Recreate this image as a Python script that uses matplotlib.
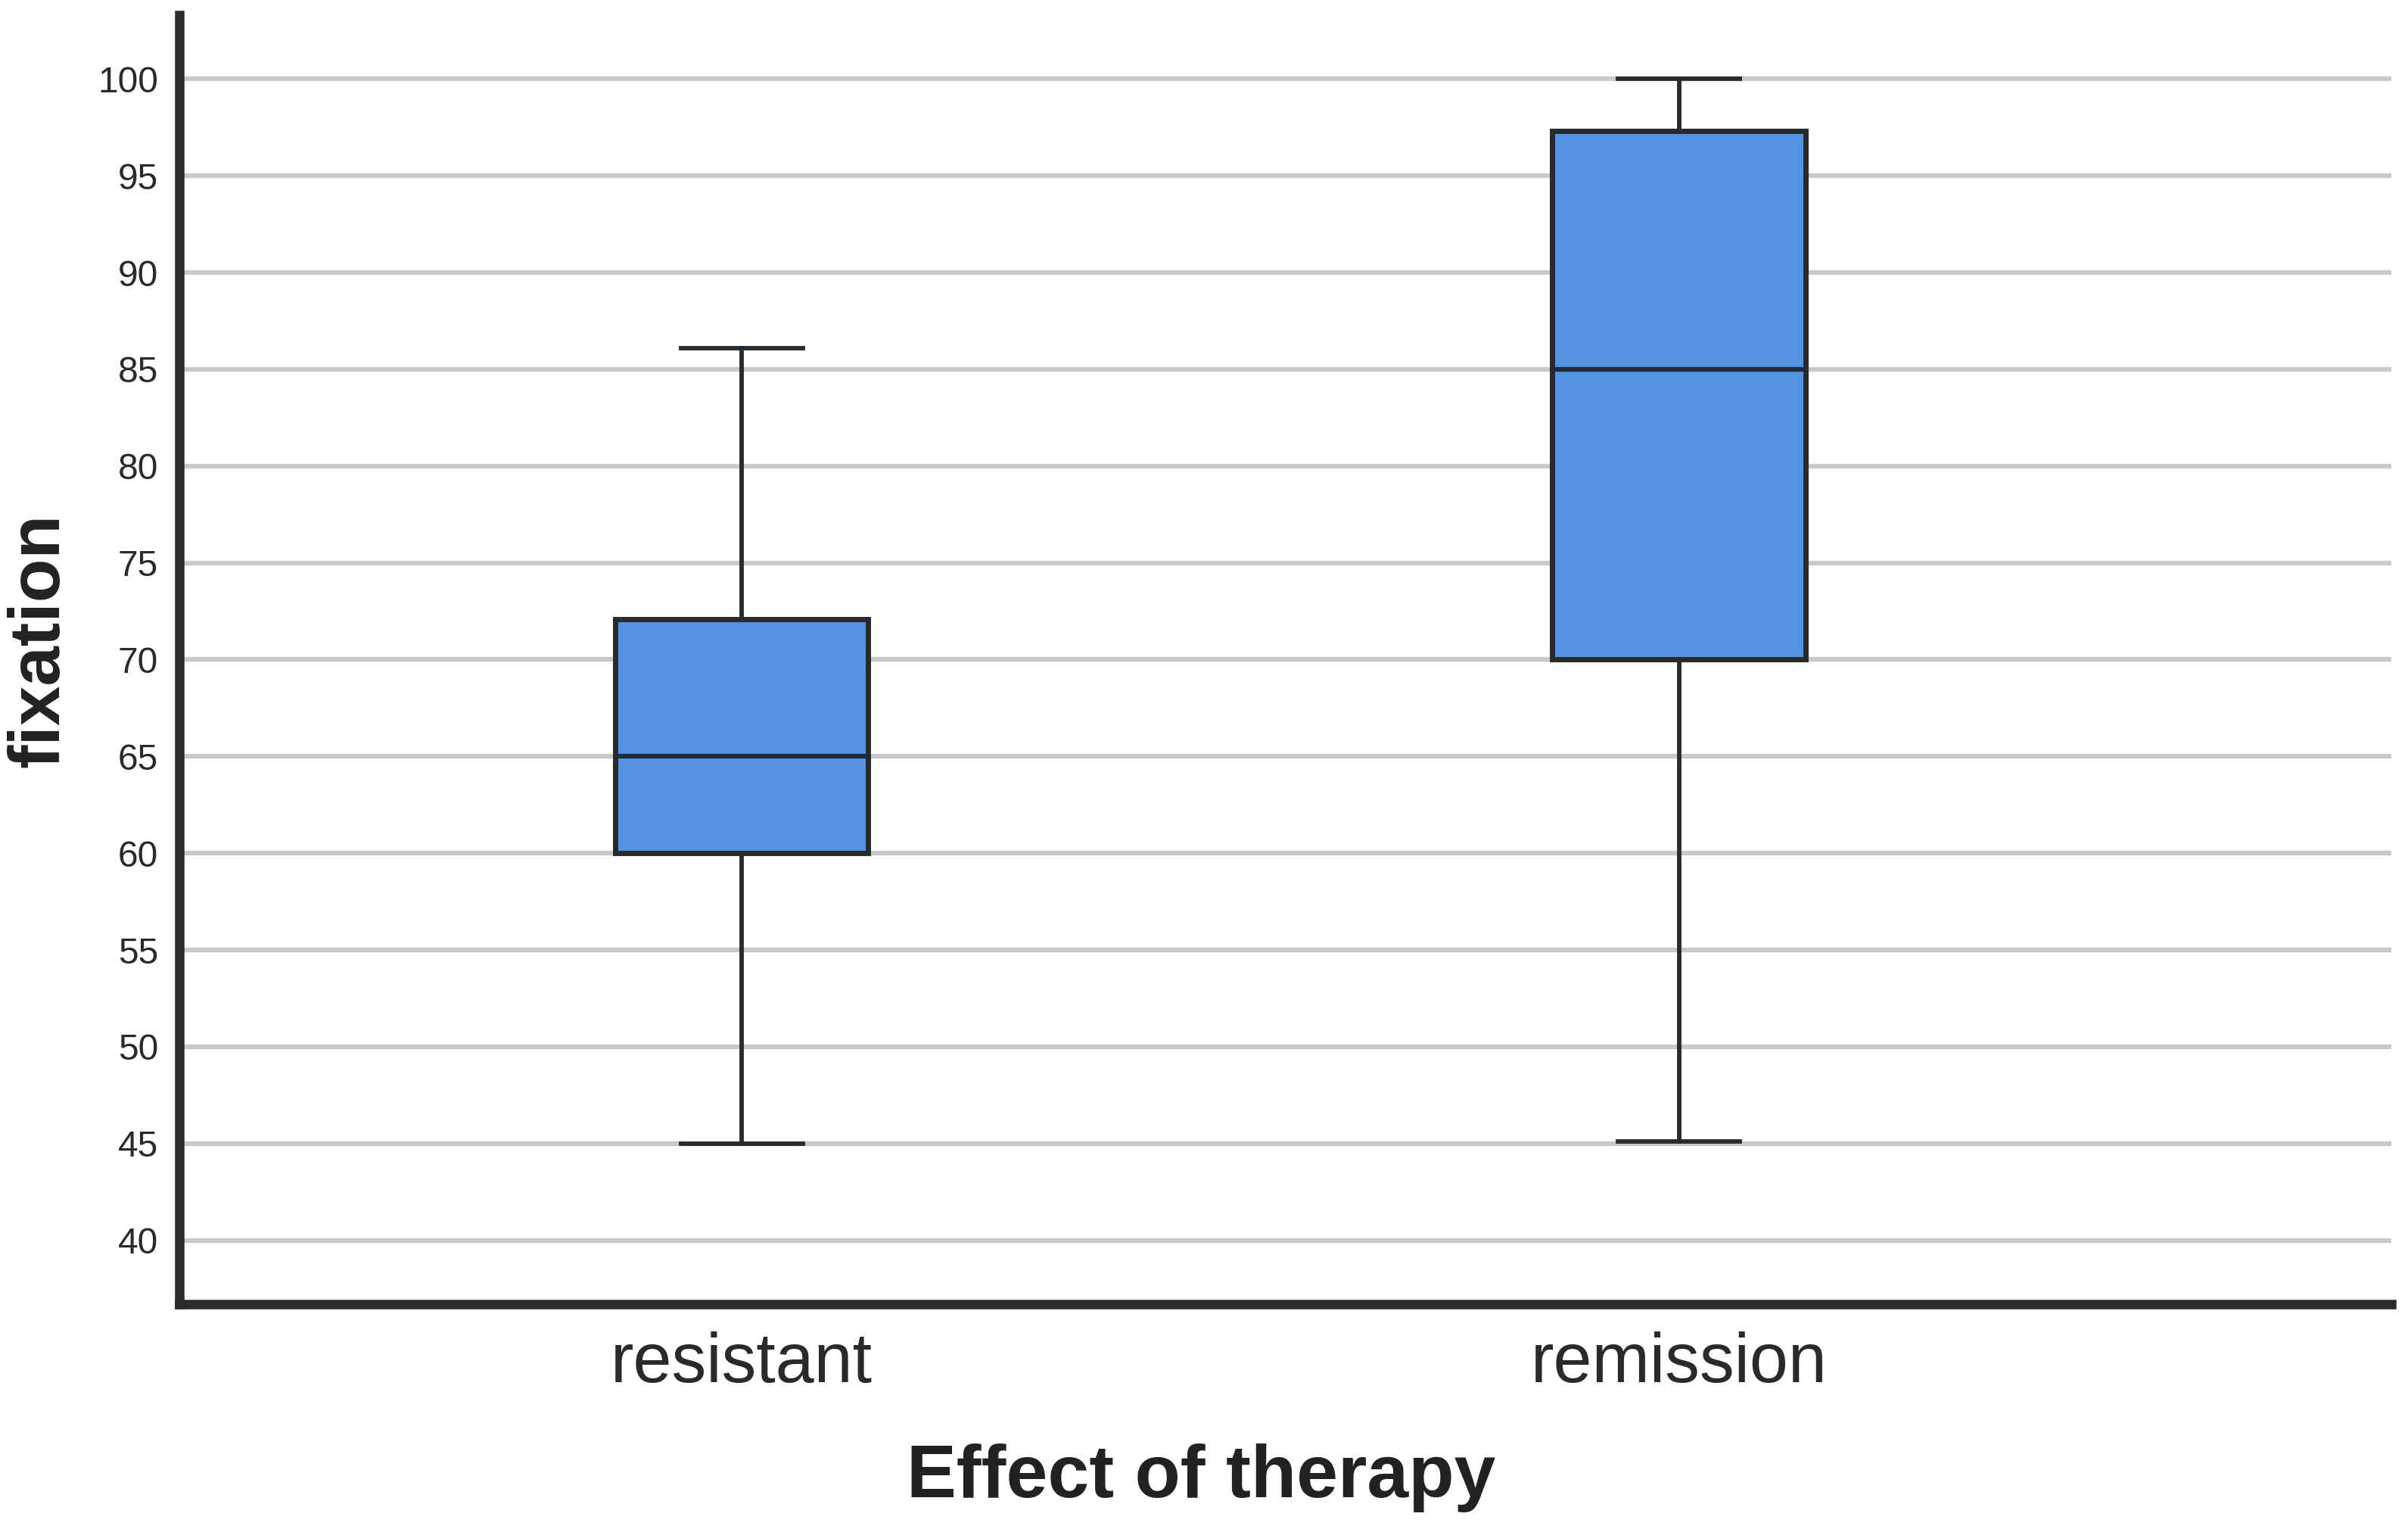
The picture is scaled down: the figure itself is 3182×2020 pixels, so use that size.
import matplotlib
matplotlib.use("Agg")
import matplotlib.pyplot as plt

categories = ["resistant", "remission"]
whisker_low = [45, 45.1]
q1 = [60, 70]
median = [65, 85]
q3 = [72.1, 97.3]
whisker_high = [86.1, 100]
yticks = [40, 45, 50, 55, 60, 65, 70, 75, 80, 85, 90, 95, 100]

plt.rcParams['font.family'] = ['Liberation Sans', 'DejaVu Sans']

fig = plt.figure(figsize=(31.82, 20.2), dpi=100)
ax = fig.add_axes([237/3182, (2020-1723)/2020, 2923/3182, (1723-20)/2020])

stats = []
for i, c in enumerate(categories):
    stats.append(dict(label=c, whislo=whisker_low[i], q1=q1[i], med=median[i],
                      q3=q3[i], whishi=whisker_high[i], fliers=[]))

edge = "#272a2e"
ax.bxp(stats, positions=[0, 1], widths=0.27, patch_artist=True, showfliers=False,
       boxprops=dict(facecolor="#5594e3", edgecolor=edge, linewidth=5),
       medianprops=dict(color="#1f2a3a", linewidth=4.5),
       whiskerprops=dict(color=edge, linewidth=4.2),
       capprops=dict(color=edge, linewidth=4.2),
       capwidths=0.13, zorder=3)

ax.set_xlim(-0.6, 1.76)
ax.set_ylim(36.7, 103.3)
ax.set_yticks(yticks)
ax.set_xticks([0, 1])
ax.set_xticklabels(categories)
ax.yaxis.grid(True, color="#c8c8c8", linewidth=4.5, zorder=0)
ax.set_axisbelow(True)

for s in ["top", "right"]:
    ax.spines[s].set_visible(False)
for s in ["left", "bottom"]:
    ax.spines[s].set_linewidth(9)
    ax.spines[s].set_color("#2a2a2a")
    ax.spines[s].set_capstyle("projecting")

ax.tick_params(axis="y", length=0, pad=20, labelsize=34.5, labelcolor="#2a2a2a")
ax.tick_params(axis="x", length=0, pad=26, labelsize=66, labelcolor="#2a2a2a")

ax.set_xlabel("Effect of therapy", fontsize=71, fontweight="bold", color="#222222")
ax.xaxis.set_label_coords(0.462, -0.108)
ax.set_ylabel("fixation", fontsize=68, fontweight="bold", color="#222222")
ax.yaxis.set_label_coords(-0.0478, 0.515)

fig.savefig("out.png", dpi=100, facecolor="white")
